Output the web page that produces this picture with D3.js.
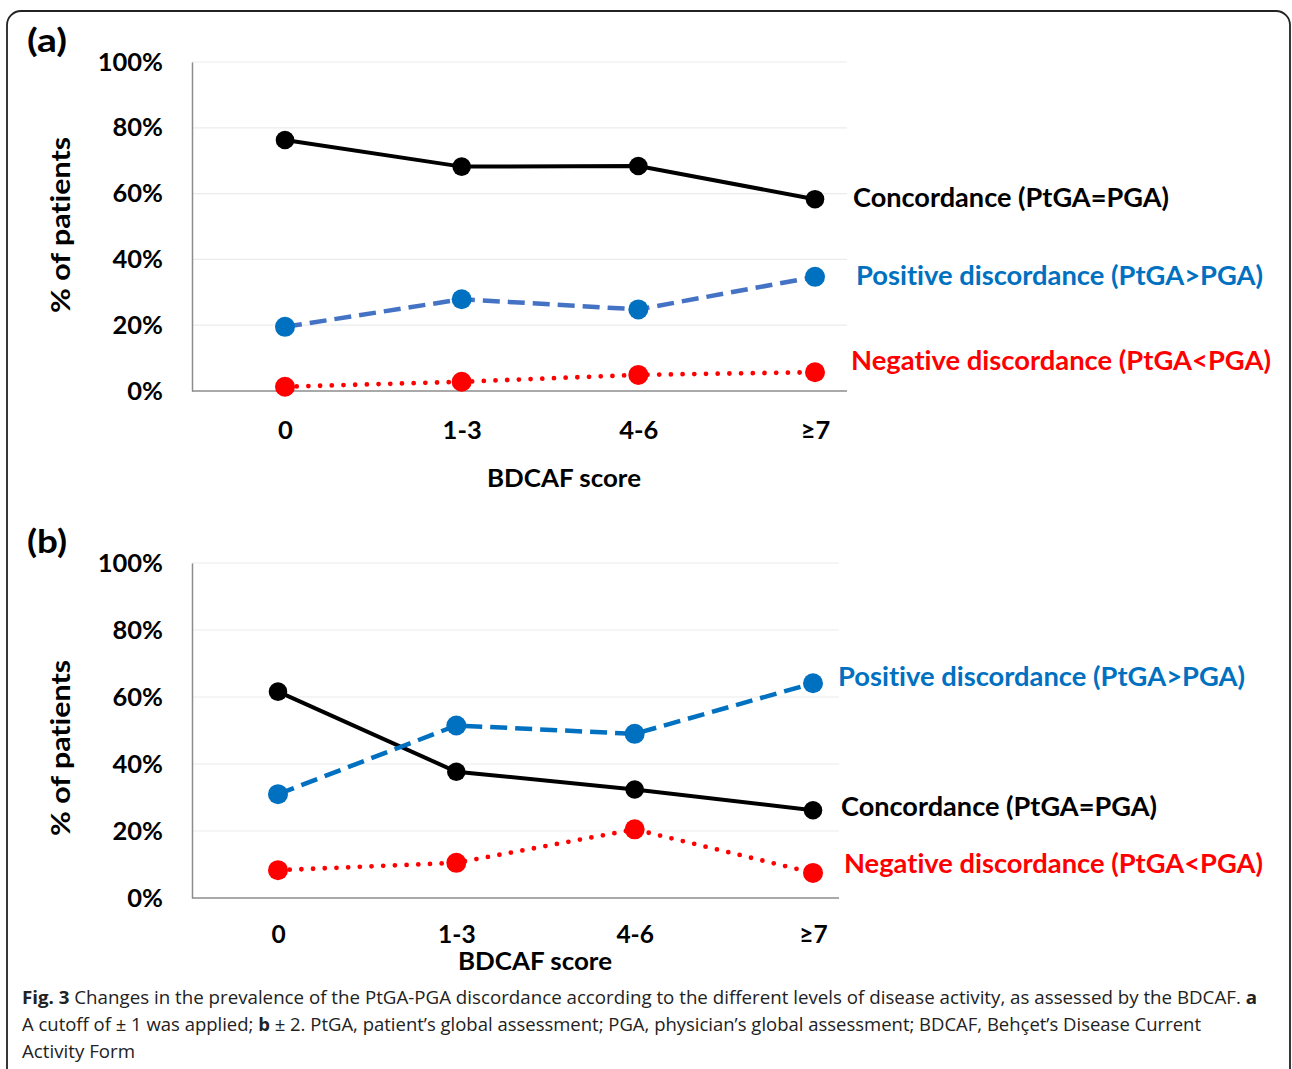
<!DOCTYPE html>
<html><head><meta charset="utf-8">
<script src="https://cdn.jsdelivr.net/npm/d3@7"></script>
<style>
html,body{margin:0;padding:0;background:#fff;}
svg{display:block;}
text{font-variant-ligatures:none;font-feature-settings:"liga" 0,"dlig" 0;}
</style></head>
<body>
<svg id="c" width="1292" height="1069"></svg>
<script>
// ---- data ----
const categories = ["0", "1-3", "4-6", "≥7"];
const yTicks = [0, 20, 40, 60, 80, 100];
const yTickLabels = ["0%", "20%", "40%", "60%", "80%", "100%"];
const seriesNames = ["Concordance (PtGA=PGA)", "Positive discordance (PtGA>PGA)", "Negative discordance (PtGA<PGA)"];
const concordanceA = [76.3, 68.2, 68.4, 58.3];
const positiveA = [19.5, 27.9, 24.8, 34.7];
const negativeA = [1.3, 2.8, 4.9, 5.7];
const concordanceB = [61.6, 37.7, 32.4, 26.2];
const positiveB = [31.0, 51.5, 49.0, 64.1];
const negativeB = [8.3, 10.5, 20.5, 7.5];
const panelLabels = ["(a)", "(b)"];
const xTitle = "BDCAF score";
const yTitle = "% of patients";

// ---- layout / styles ----
const svg = d3.select("#c");
const FONT = "Lato, 'Open Sans', sans-serif";

svg.append("rect").attr("x", 7).attr("y", 11).attr("width", 1283).attr("height", 1080)
  .attr("rx", 14).attr("fill", "#fff").attr("stroke", "#222").attr("stroke-width", 1.8);

const styles = [
  {color: "#000", lineColor: "#000", dash: null, cap: "butt", width: 4, r: 9.3},
  {color: "#0070C0", lineColor: null, dash: "17 8", cap: "butt", width: 4.5, r: 10},
  {color: "#FF0000", lineColor: "#FF0000", dash: "0 11.7", cap: "round", width: 4.8, r: 10}
];

const panels = [
  {label: panelLabels[0], labelY: 44, x0: 285, x1: 815, yTop: 62, yBot: 391, axisX: 192, gridRight: 847,
   tickY: 430, tickFs: 25.5, titleX: 564, titleY: 480, titleFs: 25.5, yTitleY: 225, blueLine: "#4472C4",
   data: [concordanceA, positiveA, negativeA],
   labelPos: [{x: 853, dy: 1, w: 316}, {x: 856, dy: 1, w: 407}, {x: 851, dy: -9, w: 420}]},
  {label: panelLabels[1], labelY: 545, x0: 278, x1: 813, yTop: 563, yBot: 898, axisX: 192, gridRight: 839,
   tickY: 934, tickFs: 24.5, titleX: 535, titleY: 964, titleFs: 24.5, yTitleY: 748, blueLine: "#0070C0",
   data: [concordanceB, positiveB, negativeB],
   labelPos: [{x: 841, dy: -1, w: 316}, {x: 838, dy: -4, w: 407}, {x: 844, dy: -7, w: 419}]}
];

panels.forEach(p => {
  const g = svg.append("g");
  const x = d3.scalePoint().domain(categories).range([p.x0, p.x1]);
  const y = d3.scaleLinear().domain([0, 100]).range([p.yBot, p.yTop]);

  // panel label
  g.append("text").attr("x", 27).attr("y", p.labelY).attr("dominant-baseline", "middle")
    .attr("font-family", FONT).attr("font-weight", 700).attr("font-size", 32)
    .attr("textLength", 40).attr("lengthAdjust", "spacingAndGlyphs").text(p.label);

  // gridlines
  g.append("g").selectAll("line").data(yTicks.filter(t => t > 0)).join("line")
    .attr("x1", p.axisX).attr("x2", p.gridRight).attr("y1", d => y(d)).attr("y2", d => y(d))
    .attr("stroke", "#ebebeb").attr("stroke-width", 1.2);

  // y axis (labels only, via d3 axis)
  const ya = d3.axisLeft(y).tickValues(yTicks).tickFormat((d, i) => yTickLabels[i]).tickSize(0).tickPadding(29);
  const yg = g.append("g").attr("transform", `translate(${p.axisX},0)`).call(ya);
  yg.select(".domain").attr("stroke", "#8c8c8c").attr("stroke-width", 1.5);
  yg.selectAll("text").attr("font-family", FONT).attr("font-weight", 700).attr("font-size", 25.5).attr("fill", "#000");

  // x baseline
  g.append("line").attr("x1", p.axisX).attr("x2", p.gridRight).attr("y1", y(0)).attr("y2", y(0))
    .attr("stroke", "#8c8c8c").attr("stroke-width", 1.5);

  // x tick labels
  const xa = d3.axisBottom(x).tickSize(0).tickPadding(0);
  const xg = g.append("g").attr("transform", `translate(0,${p.tickY})`).call(xa);
  xg.select(".domain").remove();
  xg.selectAll("text").attr("font-family", FONT).attr("font-weight", 700).attr("font-size", p.tickFs)
    .attr("fill", "#000").attr("dy", "0.35em").attr("y", 0);

  // axis titles
  g.append("text").attr("x", p.titleX).attr("y", p.titleY).attr("text-anchor", "middle").attr("dominant-baseline", "middle")
    .attr("font-family", FONT).attr("font-weight", 700).attr("font-size", p.titleFs)
    .attr("textLength", 154).attr("lengthAdjust", "spacingAndGlyphs").text(xTitle);
  g.append("text").attr("transform", `translate(63,${p.yTitleY}) rotate(-90)`).attr("text-anchor", "middle")
    .attr("dominant-baseline", "middle").attr("font-family", FONT).attr("font-weight", 700).attr("font-size", 27)
    .attr("textLength", 176).attr("lengthAdjust", "spacingAndGlyphs").text(yTitle);

  // series
  const line = d3.line().x((d, i) => x(categories[i])).y(d => y(d));
  p.data.forEach((vals, si) => {
    const st = styles[si];
    const lc = si === 1 ? p.blueLine : st.lineColor;
    g.append("path").attr("d", line(vals)).attr("fill", "none").attr("stroke", lc)
      .attr("stroke-width", st.width).attr("stroke-dasharray", st.dash).attr("stroke-linecap", st.cap);
  });
  p.data.forEach((vals, si) => {
    const st = styles[si];
    g.append("g").selectAll("circle").data(vals).join("circle")
      .attr("cx", (d, i) => x(categories[i])).attr("cy", d => y(d)).attr("r", st.r).attr("fill", st.color);
    const lp = p.labelPos[si];
    g.append("text").attr("x", lp.x).attr("y", y(vals[vals.length - 1]) + lp.dy).attr("dominant-baseline", "middle")
      .attr("font-family", FONT).attr("font-weight", 700).attr("font-size", 26.5).attr("fill", st.color)
      .attr("textLength", lp.w).attr("lengthAdjust", "spacingAndGlyphs").text(seriesNames[si]);
  });
});

// caption
const CF = "'Open Sans', 'Noto Sans', sans-serif";
const captionLines = [
  [["Fig. 3", 700], [" Changes in the prevalence of the PtGA-PGA discordance according to the different levels of disease activity, as assessed by the BDCAF. ", 400], ["a", 700]],
  [["A cutoff of ± 1 was applied; ", 400], ["b", 700], [" ± 2. PtGA, patient’s global assessment; PGA, physician’s global assessment; BDCAF, Behçet’s Disease Current", 400]],
  [["Activity Form", 400]]
];
const captionY = [999, 1026, 1053];
const captionW = [1235, 1179, 113];
captionLines.forEach((ln, i) => {
  const t = svg.append("text").attr("x", 22).attr("y", captionY[i]).attr("dominant-baseline", "middle")
    .attr("font-family", CF).attr("font-size", 18).attr("fill", "#222")
    .attr("textLength", captionW[i]).attr("lengthAdjust", "spacingAndGlyphs");
  ln.forEach(([s, w]) => t.append("tspan").attr("font-weight", w).text(s));
});
</script>
</body></html>
